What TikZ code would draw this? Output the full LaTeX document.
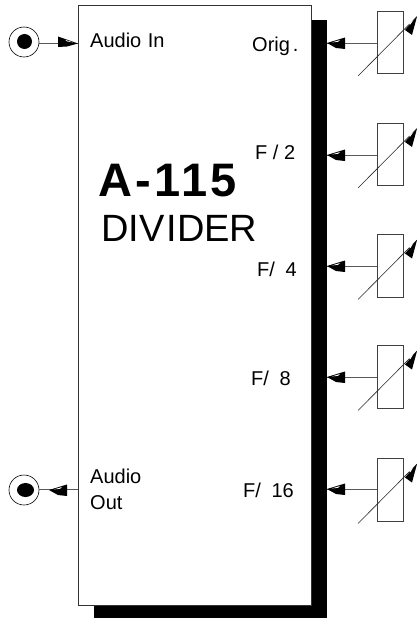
\documentclass[tikz,border=0pt]{standalone}
\usepackage{fontspec}
\setmainfont{Liberation Sans}
\newfontfamily\titlefont[LetterSpace=7,BoldFont={Liberation Sans Bold}]{Liberation Sans}
\begin{document}
\begin{tikzpicture}[x=1pt,y=-1pt,
  potbox/.style={draw=black!75,line width=0.6pt,fill=white,minimum width=26pt,minimum height=62.5pt,inner sep=0pt,outer sep=0pt},
  jackring/.style={circle,draw=black,line width=0.6pt,fill=white,minimum size=30pt,inner sep=0pt,outer sep=0pt},
  wire/.style={draw=black!65,line width=0.8pt},
  sweep/.style={draw=black!85,line width=0.6pt},
  lab/.style={inner sep=0pt,anchor=base west,font=\fontsize{20}{24}\selectfont}]
\useasboundingbox (0,0) rectangle (417,618);
\newcommand{\headL}[2]{% tip at #1, pointing left, y #2
  \fill (#1,#2) -- (#1+18,#2-5.5) -- (#1+18,#2+6) -- (#1+9,#2+5) -- cycle;
  \fill[white] (#1+5,#2-0.6) -- (#1+13,#2-3) -- (#1+11,#2-1.2) -- cycle;}
\fill (94,20) rectangle (327,618);
\node[draw=black!80,line width=0.7pt,fill=white,minimum width=233pt,minimum height=600pt,inner sep=0pt,outer sep=0pt] (panel) at (194.5,305) {};
\node[jackring] (jin) at (24,42) {};
\fill (24.5,41.5) circle (7.5);
\node[jackring] (jout) at (24,490) {};
\fill (25.5,490) ellipse (8.5 and 7);
\coordinate (pin) at (panel.west |- 0,43);
\coordinate (pout) at (panel.west |- 0,489);
\draw[wire] (jin.east |- pin) -- (pin);
\draw[wire] (jout.east |- pout) -- (pout);
\fill (78,43.5) -- (58,36.5) -- (58,47) -- (67,46.5) -- cycle;
\fill[white] (65,39.8) -- (73,42.4) -- (67,41.4) -- cycle;
\headL{49}{490}
\foreach \n/\y/\c in {a/43/42.5,b/155/154.5,c/266/266,d/377/377,e/489/490}{
  \node[potbox] (pot\n) at (390,\c) {};
  \coordinate (sh\n) at (327,\y);
  \draw[wire] (pot\n.west |- sh\n) -- (sh\n);
  \headL{327}{\y}
  \coordinate (sw\n) at (358,\c+33.5);
  \coordinate (se\n) at (417,\c-26);
  \draw[sweep] (sw\n) -- (se\n);
  \fill (417,\c-26) -- (405,\c-12.5) -- (412,\c-7.5) -- cycle;
  \fill[white] (409,\c-19) -- (413,\c-22.5) -- (410.5,\c-18) -- cycle;
}
\node[lab] (tin) at (90,48) {Audio\kern1pt\ In};
\node[lab] (torig) at (252,52) {Orig\kern3pt.};
\node[lab] (t2) at (255,159) {F / 2};
\node[lab] (t4) at (257,276) {F/\kern5pt\ 4};
\node[lab] (t8) at (251,385) {F/\kern5pt\ 8};
\node[lab] (t16) at (243,497) {F/\kern5pt\ 16};
\node[lab] (tout1) at (90,483) {Audio};
\node[lab] (tout2) at (90,509) {Out};
\node[inner sep=0pt,anchor=base west,font=\fontsize{47}{50}\titlefont\bfseries] (title) at (98,196) {A-115};
\node[inner sep=0pt,anchor=base west,font=\fontsize{38}{42}\selectfont] (sub) at (101,241) {DIV\kern2pt IDER};
\end{tikzpicture}
\end{document}
